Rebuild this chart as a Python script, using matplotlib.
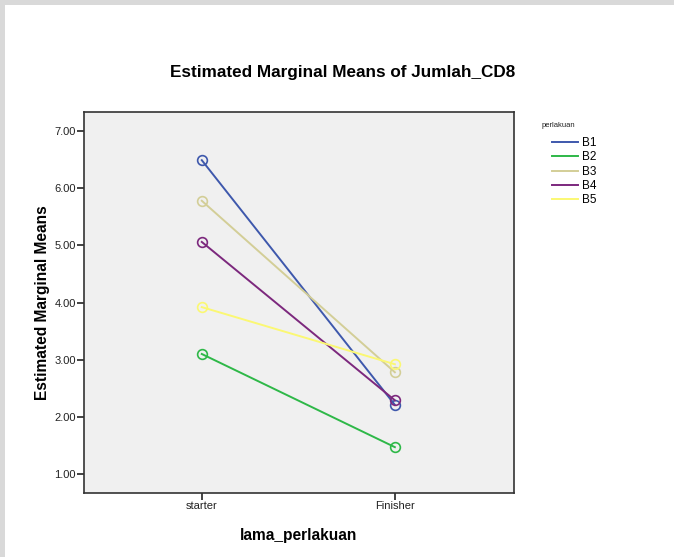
import matplotlib
matplotlib.use("Agg")
import matplotlib.pyplot as plt
from matplotlib.patches import Rectangle

plt.rcParams["font.family"] = ["Liberation Sans", "DejaVu Sans"]

# estimated marginal means per treatment group
phases = ["starter", "Finisher"]
groups = ["B1", "B2", "B3", "B4", "B5"]
b1 = [6.49, 2.21]
b2 = [3.10, 1.47]
b3 = [5.78, 2.78]
b4 = [5.06, 2.29]
b5 = [3.92, 2.92]
series = [b1, b2, b3, b4, b5]
colors = ["#3E58AC", "#2EB848", "#D3CE97", "#7C287D", "#FBF873"]
yticks = [1, 2, 3, 4, 5, 6, 7]

W, H = 674, 557
fig = plt.figure(figsize=(W / 100, H / 100), dpi=100)
fig.patch.set_facecolor("white")

# thin grey border strips along top and left edge
fig.patches.append(Rectangle((0, 1 - 5 / H), 1, 5 / H, transform=fig.transFigure,
                             facecolor="#D9D9D9", edgecolor="none", zorder=0))
fig.patches.append(Rectangle((0, 0), 5 / W, 1, transform=fig.transFigure,
                             facecolor="#D9D9D9", edgecolor="none", zorder=0))

x0, x1, y0, y1 = 84, 514, 112, 493
ax = fig.add_axes([x0 / W, 1 - y1 / H, (x1 - x0) / W, (y1 - y0) / H])
ax.set_facecolor("#F0F0F0")

xs = list(range(len(phases)))
for name, vals, c in zip(groups, series, colors):
    ax.plot(xs, vals, color=c, lw=1.4, marker="o", ms=7, mfc="none",
            mec=c, mew=1.2, label=name)

ax.set_xlim(-0.61, 1.617)
ax.set_ylim(0.668, 7.333)
ax.set_xticks(xs)
ax.set_xticklabels(phases, fontsize=8)
ax.set_yticks(yticks)
ax.set_yticklabels(["%.2f" % v for v in yticks], fontsize=8)
ax.tick_params(axis="both", direction="out", length=5, width=1.2, color="#222222",
               labelcolor="#222222", pad=1)
for s in ax.spines.values():
    s.set_color("#333333")
    s.set_linewidth(1.2)

ax.set_ylabel("Estimated Marginal Means", fontsize=11.2, fontweight="bold", labelpad=3)
ax.set_xlabel("lama_perlakuan", fontsize=11.2, fontweight="bold", labelpad=12)
fig.text(343 / W, 1 - 72 / H, "Estimated Marginal Means of Jumlah_CD8",
         ha="center", va="center", fontsize=12.3, fontweight="bold")

fig.text(542 / W, 1 - 125 / H, "perlakuan", fontsize=5.5, color="#222222",
         ha="left", va="center")
leg = fig.legend(loc="upper left", bbox_to_anchor=(552 / W, 1 - 137 / H),
                 fontsize=8.5, frameon=False, handlelength=2.2,
                 handletextpad=0.3, labelspacing=0.2, borderaxespad=0,
                 borderpad=0)
for h in leg.legend_handles:
    h.set_marker("")

fig.savefig("out.png", dpi=100)
